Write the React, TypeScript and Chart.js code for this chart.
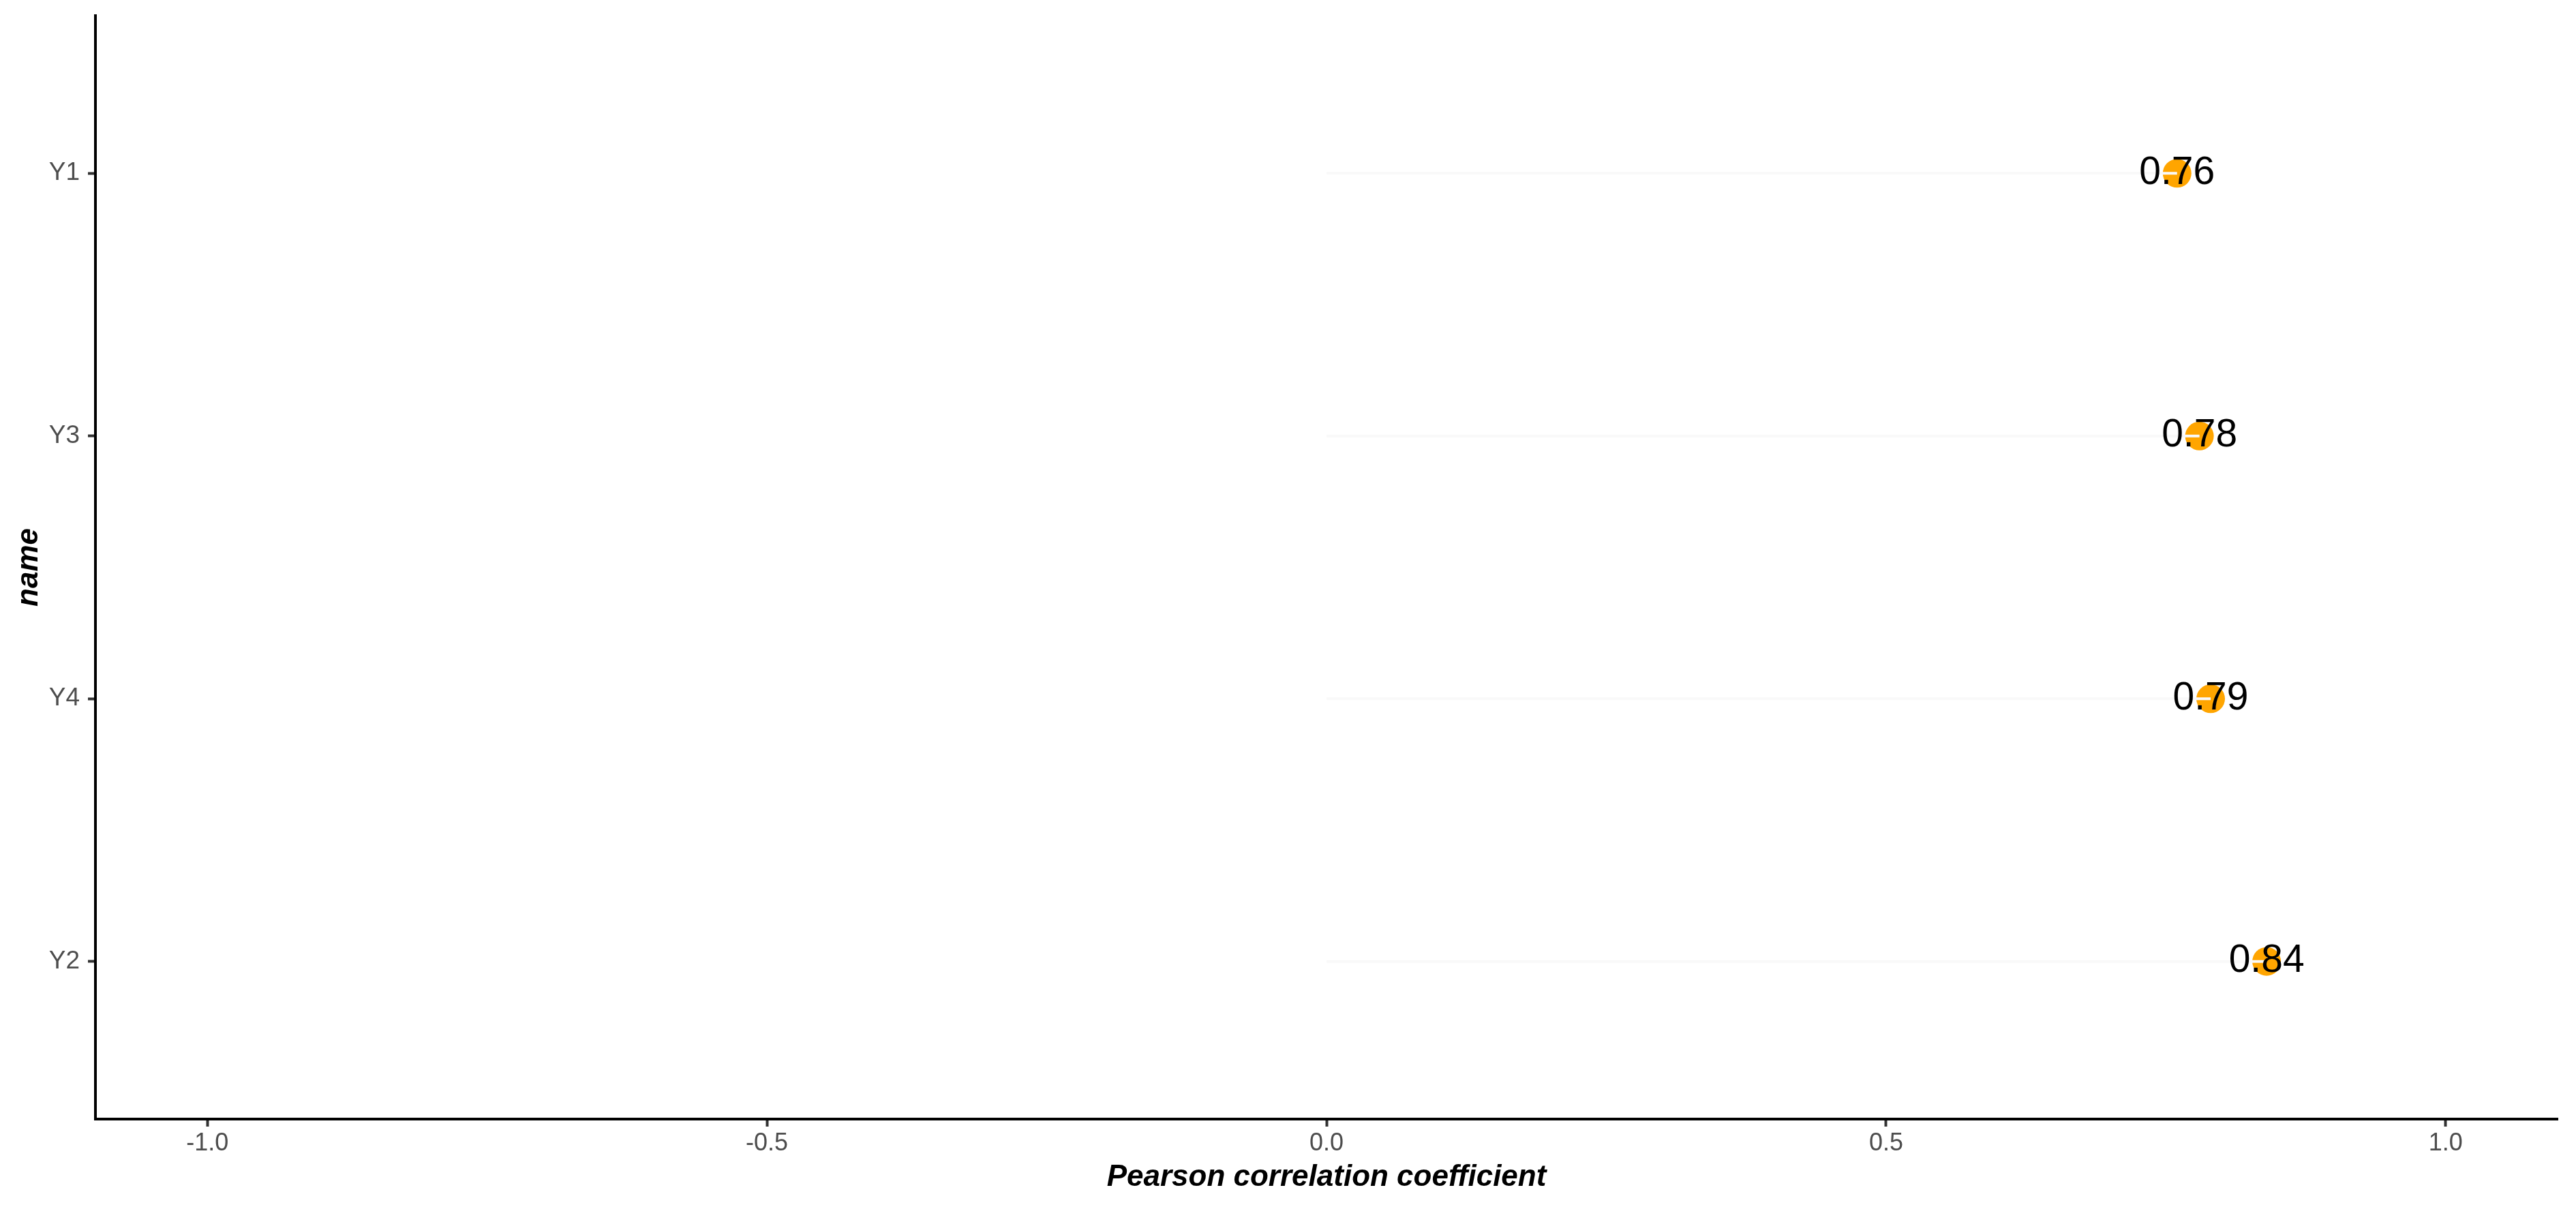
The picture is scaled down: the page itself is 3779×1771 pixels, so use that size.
import React, { useEffect, useRef } from 'react';
import { Chart, registerables, ChartConfiguration, Plugin } from 'chart.js';

Chart.register(...registerables);

// data, top to bottom
const names = ['Y1', 'Y3', 'Y4', 'Y2'];
const correlations = [0.76, 0.78, 0.79, 0.84];
const xTicks = [-1, -0.5, 0, 0.5, 1];

const WIDTH = 3779;
const HEIGHT = 1771;
const FONT = '"Liberation Sans", Arial, Helvetica, sans-serif';

// value labels drawn over the points
const valueLabels: Plugin<'scatter'> = {
  id: 'valueLabels',
  afterDatasetsDraw(chart) {
    const idx = chart.data.datasets.length - 1;
    const meta = chart.getDatasetMeta(idx);
    const ctx = chart.ctx;
    ctx.save();
    ctx.font = `57px ${FONT}`;
    ctx.fillStyle = '#000000';
    ctx.textAlign = 'center';
    ctx.textBaseline = 'middle';
    meta.data.forEach((pt, i) => {
      ctx.fillText(correlations[i].toFixed(2), pt.x, pt.y);
    });
    ctx.restore();
  }
};

const App: React.FC = () => {
  const canvasRef = useRef<HTMLCanvasElement>(null);
  const chartRef = useRef<Chart | null>(null);

  useEffect(() => {
    document.body.style.margin = '0';
    if (!canvasRef.current) return;

    // faint segments from 0 to each value
    const segments = correlations.map((v, i) => ({
      data: [{ x: 0, y: i }, { x: v, y: i }],
      showLine: true,
      borderColor: '#f9f9f9',
      borderWidth: 4,
      pointRadius: 0,
      pointHoverRadius: 0
    }));

    const config: ChartConfiguration<'scatter'> = {
      type: 'scatter',
      data: {
        datasets: [
          ...segments,
          {
            data: correlations.map((v, i) => ({ x: v, y: i })),
            backgroundColor: '#FFA500',
            borderWidth: 0,
            pointRadius: 21,
            pointHoverRadius: 21
          }
        ]
      },
      options: {
        responsive: false,
        devicePixelRatio: 1,
        animation: false,
        layout: { padding: { top: 23, right: 27, left: 0, bottom: 0 } },
        plugins: {
          legend: { display: false },
          tooltip: { enabled: false }
        },
        scales: {
          x: {
            type: 'linear',
            min: -1.1,
            max: 1.1,
            afterBuildTicks: (scale) => {
              scale.ticks = xTicks.map(v => ({ value: v }));
            },
            afterFit: (scale) => {
              scale.height = 129;
              scale.paddingLeft = 0;
              scale.paddingRight = 0;
            },
            grid: {
              display: true,
              drawOnChartArea: false,
              drawTicks: true,
              tickLength: 11,
              tickColor: '#333333',
              tickWidth: 4
            },
            border: { display: true, color: '#000000', width: 4 },
            ticks: {
              padding: 3,
              color: '#4d4d4d',
              font: { family: FONT, size: 36 },
              maxRotation: 0,
              callback: (v) => Number(v).toFixed(1)
            },
            title: {
              display: true,
              text: 'Pearson correlation coefficient',
              color: '#000000',
              font: { family: FONT, size: 44, weight: 'bold', style: 'italic', lineHeight: 1 },
              padding: { top: 0, bottom: 21 }
            }
          },
          y: {
            type: 'linear',
            min: -0.6,
            max: 3.6,
            reverse: true,
            afterBuildTicks: (scale) => {
              scale.ticks = names.map((_, i) => ({ value: i }));
            },
            afterFit: (scale) => {
              scale.width = 140;
              scale.paddingTop = 0;
              scale.paddingBottom = 0;
            },
            grid: {
              display: true,
              drawOnChartArea: false,
              drawTicks: true,
              tickLength: 11,
              tickColor: '#333333',
              tickWidth: 4
            },
            border: { display: true, color: '#000000', width: 4 },
            ticks: {
              padding: 12,
              color: '#4d4d4d',
              font: { family: FONT, size: 37 },
              callback: (v) => names[Number(v)] ?? ''
            },
            title: {
              display: true,
              text: 'name',
              color: '#000000',
              font: { family: FONT, size: 44, weight: 'bold', style: 'italic', lineHeight: 1 },
              padding: { top: 21, bottom: 0 }
            }
          }
        }
      },
      plugins: [valueLabels]
    };

    chartRef.current = new Chart(canvasRef.current, config);

    return () => {
      if (chartRef.current) {
        chartRef.current.destroy();
        chartRef.current = null;
      }
    };
  }, []);

  return (
    <div style={{ width: WIDTH, height: HEIGHT, background: '#ffffff' }}>
      <canvas ref={canvasRef} width={WIDTH} height={HEIGHT}></canvas>
    </div>
  );
};

export default App;
